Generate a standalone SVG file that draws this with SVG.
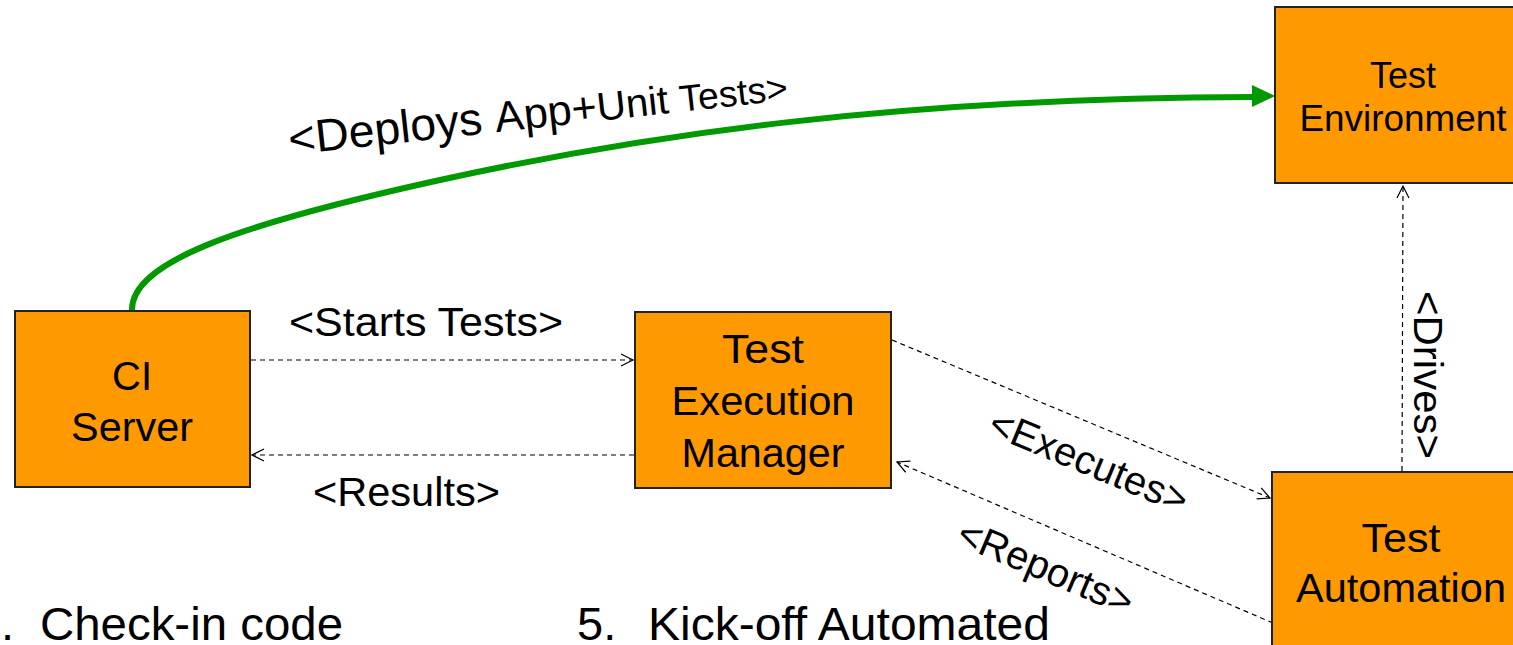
<svg xmlns="http://www.w3.org/2000/svg" width="1513" height="645" viewBox="0 0 1513 645">
<style>
.box{fill:#FF9900;stroke:#222;stroke-width:2}
.t{font-family:"Liberation Sans",Arial,sans-serif;font-size:40px;fill:#000}
.c{text-anchor:middle}
.d{fill:none;stroke:#000;stroke-width:1.2;stroke-dasharray:5,4}
</style>
<defs>
<marker id="open" markerUnits="userSpaceOnUse" markerWidth="16" markerHeight="16" refX="13" refY="7" viewBox="0 0 16 14" orient="auto">
<path d="M1,1 L13,7 L1,13" fill="none" stroke="#000" stroke-width="1.2"/>
</marker>
</defs>
<rect width="1513" height="645" fill="#fff"/>
<g id="connectors">
<path d="M132,311 C130,262 240,224 440,180 C650,134 900,98 1253,97" fill="none" stroke="#009900" stroke-width="6"/>
<polygon points="1252,85 1275,96 1252,107" fill="#009900"/>
<line class="d" x1="251" y1="360" x2="633" y2="360" marker-end="url(#open)"/>
<line class="d" x1="634" y1="455" x2="252" y2="455" marker-end="url(#open)"/>
<line class="d" x1="892" y1="340" x2="1270" y2="498" marker-end="url(#open)"/>
<line class="d" x1="1273" y1="623" x2="897" y2="462" marker-end="url(#open)"/>
<line class="d" x1="1402" y1="471" x2="1403" y2="186" marker-end="url(#open)"/>
<text class="t" transform="translate(290,155) rotate(-6.3)" textLength="502" lengthAdjust="spacingAndGlyphs"><tspan style="font-size:46px">&lt;Deploys </tspan><tspan style="font-size:43px">App+</tspan><tspan style="font-size:40px">Unit </tspan><tspan style="font-size:37px">Tests&gt;</tspan></text>
<text class="t" x="289" y="336" textLength="274" lengthAdjust="spacingAndGlyphs">&lt;Starts Tests&gt;</text>
<text class="t" x="313" y="506" textLength="187" lengthAdjust="spacingAndGlyphs">&lt;Results&gt;</text>
<text class="t" transform="translate(1089,461) rotate(22.5)" text-anchor="middle" y="14">&lt;Executes&gt;</text>
<text class="t" transform="translate(1046,567) rotate(23)" text-anchor="middle" y="14">&lt;Reports&gt;</text>
<text class="t" transform="translate(1428,375) rotate(90)" text-anchor="middle" y="14" textLength="168" lengthAdjust="spacingAndGlyphs">&lt;Drives&gt;</text>
</g>
<g id="ci-server">
<rect class="box" x="15" y="311" width="235" height="176"/>
<text class="t c" x="132" y="390">CI</text>
<text class="t c" x="132" y="441" textLength="122" lengthAdjust="spacingAndGlyphs">Server</text>
</g>
<g id="test-execution-manager">
<rect class="box" x="635" y="312" width="256" height="176"/>
<text class="t c" x="763" y="363" textLength="82" lengthAdjust="spacingAndGlyphs">Test</text>
<text class="t c" x="763" y="415" textLength="183" lengthAdjust="spacingAndGlyphs">Execution</text>
<text class="t c" x="763" y="467" textLength="163" lengthAdjust="spacingAndGlyphs">Manager</text>
</g>
<g id="test-environment">
<rect class="box" x="1275" y="7" width="260" height="176"/>
<text class="t c" x="1403" y="88" style="font-size:36px">Test</text>
<text class="t c" x="1403" y="131" style="font-size:36px" textLength="207" lengthAdjust="spacingAndGlyphs">Environment</text>
</g>
<g id="test-automation">
<rect class="box" x="1272" y="472" width="260" height="200"/>
<text class="t c" x="1401" y="552" textLength="79" lengthAdjust="spacingAndGlyphs">Test</text>
<text class="t c" x="1401" y="602" textLength="210" lengthAdjust="spacingAndGlyphs">Automation</text>
</g>
<g id="notes">
<text class="t" x="1" y="640" style="font-size:47px">.</text>
<text class="t" x="40" y="640" style="font-size:47px" textLength="303" lengthAdjust="spacingAndGlyphs">Check-in code</text>
<text class="t" x="577" y="640" style="font-size:47px">5.</text>
<text class="t" x="648" y="640" style="font-size:47px" textLength="402" lengthAdjust="spacingAndGlyphs">Kick-off Automated</text>
</g>
</svg>
